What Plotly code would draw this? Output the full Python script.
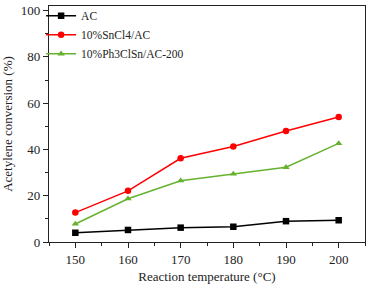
import plotly.graph_objects as go

temperature = [150, 160, 170, 180, 190, 200]
ac = [4.0, 5.2, 6.2, 6.6, 9.0, 9.4]
sncl4_ac = [12.7, 22.1, 36.2, 41.3, 48.0, 54.0]
ph3clsn_ac = [7.8, 18.7, 26.5, 29.4, 32.3, 42.6]

series = [
    ("AC", ac, "#000000", "square"),
    ("10%SnCl4/AC", sncl4_ac, "#ff0000", "circle"),
    ("10%Ph3ClSn/AC-200", ph3clsn_ac, "#66b22e", "triangle-up"),
]

fig = go.Figure()
for name, vals, color, sym in series:
    fig.add_trace(go.Scatter(
        x=temperature, y=vals, name=name, mode="lines+markers",
        line=dict(color=color, width=1.5),
        marker=dict(symbol=sym, size=6.5, color=color),
    ))

font = dict(family="Liberation Serif", size=13, color="#222")
fig.update_layout(
    width=371, height=289,
    margin=dict(l=49, r=6, t=6, b=47, autoexpand=False),
    paper_bgcolor="white", plot_bgcolor="white",
    font=font,
    showlegend=True,
    legend=dict(x=-0.025, y=1.02, xanchor="left", yanchor="top",
                bgcolor="rgba(0,0,0,0)", font=dict(family="Liberation Serif", size=11.5, color="#222"),
                tracegroupgap=0, itemwidth=30),
    xaxis=dict(range=[145, 205], tickvals=temperature, ticks="outside", ticklen=5,
               tickcolor="#222", showline=True, linecolor="#222", linewidth=1.2, mirror=True,
               showgrid=False, zeroline=False, automargin=False,
               minor=dict(ticks="outside", ticklen=3, dtick=5, tick0=145, tickcolor="#222"),
               title=dict(text="Reaction temperature (°C)", font=dict(size=13), standoff=6)),
    yaxis=dict(range=[0, 102], tickvals=[0, 20, 40, 60, 80, 100], ticks="outside", ticklen=5,
               tickcolor="#222", showline=True, linecolor="#222", linewidth=1.2, mirror=True,
               showgrid=False, zeroline=False, automargin=False,
               minor=dict(ticks="outside", ticklen=3, dtick=10, tickcolor="#222"),
               title=dict(text="Acetylene conversion (%)", font=dict(size=13), standoff=6)),
)

fig.write_html("out.html", config={"displayModeBar": False},
               post_script="document.body.style.margin='0';document.body.style.padding='0';")
